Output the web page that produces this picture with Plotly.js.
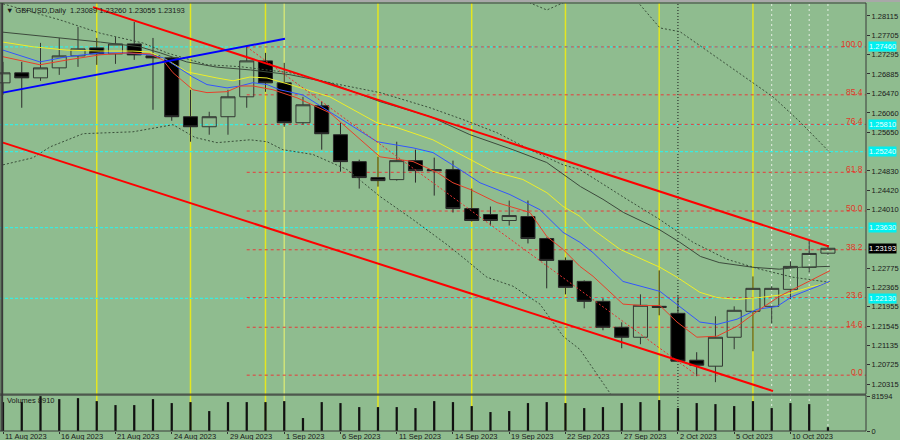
<!DOCTYPE html>
<html>
<head>
<meta charset="utf-8">
<script src="https://cdn.plot.ly/plotly-3.0.1.min.js"></script>
<style>
  html, body { margin: 0; padding: 0; background: #8fbc8f; }
  #chart { width: 900px; height: 440px; }
</style>
</head>
<body>
<div id="chart"></div>
<script>
// ---------- data ----------
const dateLabels = ["11 Aug 2023","16 Aug 2023","21 Aug 2023","24 Aug 2023","29 Aug 2023","1 Sep 2023","6 Sep 2023","11 Sep 2023","14 Sep 2023","19 Sep 2023","22 Sep 2023","27 Sep 2023","2 Oct 2023","5 Oct 2023","10 Oct 2023"];
const dateLabelIdx = [0,3,6,9,12,15,18,21,24,27,30,33,36,39,42];

const openP = [1.26697,1.26909,1.26803,1.27014,1.27268,1.27437,1.27310,1.27521,1.27268,1.27226,
  1.25979,1.25767,1.25979,1.26401,1.27162,1.26697,1.25852,1.26211,1.25598,1.25028,
  1.24690,1.24647,1.25049,1.24859,1.24859,1.24034,1.23908,1.23781,1.23865,1.23400,
  1.22936,1.22492,1.22069,1.21520,1.21308,1.21963,1.21815,1.20822,1.20695,1.21308,
  1.21858,1.21963,1.22323,1.22788,1.23089];
const highP = [1.27141,1.27141,1.27543,1.27648,1.27881,1.27648,1.27669,1.27986,1.27648,1.27247,
  1.26549,1.26084,1.26549,1.27458,1.27331,1.27120,1.26401,1.26296,1.25852,1.25070,
  1.25133,1.25450,1.25281,1.25112,1.25049,1.24457,1.24077,1.24203,1.24203,1.23422,
  1.22999,1.22513,1.22132,1.21625,1.22217,1.22724,1.22175,1.20991,1.21752,1.21963,
  1.22597,1.22386,1.22914,1.23358,1.23260];
const lowP = [1.26444,1.26169,1.26739,1.26866,1.27035,1.27078,1.27099,1.27183,1.26127,1.25894,
  1.25450,1.25598,1.25598,1.26169,1.26507,1.25767,1.25810,1.25281,1.24816,1.24457,
  1.24499,1.24626,1.24584,1.24309,1.23950,1.23760,1.23675,1.23675,1.23295,1.22344,
  1.22217,1.21921,1.21456,1.21076,1.21160,1.21773,1.20780,1.20484,1.20357,1.21055,
  1.21012,1.21604,1.22111,1.22682,1.23055];
const closeP = [1.26909,1.26803,1.27014,1.27268,1.27416,1.27310,1.27521,1.27289,1.27226,1.25979,
  1.25767,1.25979,1.26401,1.27162,1.26697,1.25852,1.26232,1.25619,1.25028,1.24690,
  1.24626,1.25049,1.24837,1.24837,1.24034,1.23781,1.23781,1.23886,1.23400,1.22936,
  1.22365,1.22069,1.21520,1.21308,1.21985,1.21942,1.20801,1.20717,1.21308,1.21879,
  1.22344,1.22344,1.22809,1.23083,1.23193];
const volumes = [67600,67600,81594,74600,76900,69900,60600,60600,74600,65300,
  67600,46600,67600,67600,67600,69900,30300,67600,65300,55900,
  55900,55900,53600,69900,67600,58300,44300,46600,65300,67600,
  65300,53600,55900,65300,67600,72300,53600,65300,62900,58300,
  69900,53600,65300,62900,8910];

// moving averages / bands (bar index, price)
const slowX = [0,2.5,5.2,7.3,8.4,9.8,11.4,13.2,15.3,17.4,20.1,22.8,24.9,27.2,29.0,30.8,32.0,33.1,35.0,36.1,37.2,38.2,40.0,41.4,42.5,44.1];
const slowY = [1.2777,1.2767,1.2756,1.2746,1.2733,1.2714,1.2703,1.2697,1.2687,1.2670,1.2630,1.2598,1.2560,1.2528,1.2501,1.2450,1.2423,1.2395,1.2359,1.2332,1.2302,1.2289,1.2279,1.2275,1.2279,1.2281];
const upBandX = [0,3.04,5.17,7.47,8.75,10.88,12.64,15.31,17.44,20.11,22.77,24.53,26.35,28.11,29.87,30.77,33.28,35.04,36.8,38.61,40.37,42.13,44.11];
const upBandY = [1.2837,1.2803,1.2775,1.2754,1.2733,1.2708,1.2704,1.2691,1.2670,1.2649,1.2617,1.2592,1.2564,1.2528,1.2496,1.2486,1.2423,1.2380,1.2332,1.2296,1.2275,1.2258,1.2247];
const topBandX = [27.57,28.11,29.01,29.97,30.51,33.44,33.81,35.04,36.11,40.0,41.07,42.51,44.11];
const topBandY = [1.2856,1.2839,1.2824,1.2841,1.2856,1.2856,1.2843,1.2786,1.2778,1.2670,1.2640,1.2587,1.2522];
const lowBandX = [0,1.6,2.51,4.27,6.93,9.07,10.24,11.41,13.17,14.08,14.93,16.53,18.35,20.11,21.87,23.68,24.53,25.81,27.2,28.64,29.87,30.77,32.59];
const lowBandY = [1.2496,1.2511,1.2534,1.2562,1.2566,1.2581,1.2554,1.2543,1.2549,1.2545,1.2528,1.2518,1.2486,1.2429,1.2380,1.2327,1.2300,1.2258,1.2239,1.2201,1.2133,1.2105,1.2000];
const yelX = [0,1.6,3.41,5.17,6.93,7.84,8.75,9.81,11.41,12.27,13.17,14.08,15.31,17.44,19.95,21.01,22.93,24.91,26.13,27.73,29.01,29.87,30.77,31.47,32.91,35.04,35.95,37.17,38.08,39.15,40.37,41.81,43.04,44.11];
const yelY = [1.2756,1.2746,1.2739,1.2737,1.2737,1.2735,1.2718,1.2693,1.2680,1.2674,1.2682,1.2680,1.2666,1.2640,1.2585,1.2575,1.2549,1.2507,1.2482,1.2465,1.2437,1.2408,1.2387,1.2359,1.2317,1.2279,1.2258,1.2226,1.2215,1.2211,1.2215,1.2222,1.2237,1.2247];
const bluX = [0,1.97,3.41,5.17,6.61,7.84,8.53,9.28,10.13,10.88,11.95,12.64,13.33,14.08,14.77,16.0,17.44,19.95,21.87,22.93,24.37,25.44,27.04,28.64,29.87,30.77,31.47,33.07,35.04,36.11,37.17,38.08,39.15,40.21,41.28,42.13,43.04,44.11];
const bluY = [1.2739,1.2714,1.2725,1.2733,1.2733,1.2729,1.2723,1.2704,1.2682,1.2666,1.2659,1.2663,1.2670,1.2666,1.2655,1.2644,1.2608,1.2545,1.2532,1.2522,1.2486,1.2458,1.2433,1.2401,1.2353,1.2332,1.2310,1.2249,1.2228,1.2196,1.2163,1.2158,1.2169,1.2190,1.2196,1.2218,1.2232,1.2249];
const redX = [0,1.97,3.41,5.17,6.61,7.84,8.53,9.07,10.13,10.88,11.95,12.64,13.33,14.4,15.68,17.44,20.11,21.87,23.15,24.0,24.91,26.35,28.11,29.01,29.87,30.77,31.47,33.07,34.13,35.04,35.95,37.01,38.08,39.15,40.37,41.44,42.13,43.2,44.11];
const redY = [1.2725,1.2708,1.2718,1.2729,1.2733,1.2731,1.2718,1.2691,1.2655,1.2649,1.2651,1.2663,1.2663,1.2655,1.2638,1.2606,1.2513,1.2503,1.2480,1.2458,1.2444,1.2416,1.2395,1.2344,1.2317,1.2281,1.2260,1.2201,1.2198,1.2198,1.2163,1.2131,1.2133,1.2154,1.2190,1.2218,1.2232,1.2253,1.2272];

// trend lines
const chanUpperX = [4.8, 44.05], chanUpperY = [1.2830, 1.2323];
const chanLowerX = [0, 41.07],  chanLowerY = [1.2543, 1.2017];
const blueTrendX = [0, 15.04],  blueTrendY = [1.2649, 1.2763];

// Fibonacci retracement
const fibStartIdx = 13, fibEndIdx = 37;
const fibHigh = 1.27458, fibLow = 1.20505;
const fibRatios = [100.0, 85.4, 76.4, 61.8, 50.0, 38.2, 23.6, 14.6, 0.0];

// price alert lines (cyan)
const cyanLevels = [1.2746, 1.2581, 1.2524, 1.2363, 1.2213];
const cyanLabels = ["1.27460","1.25810","1.25240","1.23630","1.22130"];

// vertical separators (bar indices)
const yellowIdx = [5,10,14,20,25,30,35,40];
const paleIdx = [15];
const blackDotIdx = [36];
const whiteDashIdx = [41,42,43,44];

const priceTicks = [1.28115,1.27705,1.27295,1.26885,1.26470,1.26060,1.25650,1.24830,1.24420,1.24010,1.22775,1.22365,1.21955,1.21545,1.21135,1.20725,1.20315];
const volTicks = [0, 81594];
const lastPrice = 1.23193;
const headerText = "\u25BC GBPUSD,Daily  1.23089 1.23260 1.23055 1.23193";
const volLabel = "Volumes 8910";

// ---------- chart ----------
const FONT = '"Liberation Sans", Arial, sans-serif';
const FS = 7.5;
const idx = openP.map((_, i) => i);
const xRange = [-0.16, 46.03];
const yRange = [1.20104, 1.28388];

function line(x, y, color, width, dash) {
  return {type: 'scatter', mode: 'lines', x, y, xaxis: 'x', yaxis: 'y',
    line: {color, width, dash: dash || 'solid'}, hoverinfo: 'skip'};
}

const traces = [
  {type: 'candlestick', x: idx, open: openP, high: highP, low: lowP, close: closeP,
   xaxis: 'x', yaxis: 'y', whiskerwidth: 0,
   increasing: {line: {color: '#333833', width: 1}, fillcolor: 'rgba(0,0,0,0)'},
   decreasing: {line: {color: '#2a2a2a', width: 1}, fillcolor: '#000000'},
   hoverinfo: 'skip'},
  {type: 'bar', x: idx, y: volumes, xaxis: 'x', yaxis: 'y2', width: 0.12,
   marker: {color: '#111111', line: {width: 0}}, hoverinfo: 'skip'},
  line(slowX, slowY, '#3c4a3c', 1),
  line(upBandX, upBandY, '#3a4f3a', 1, '2px,2px'),
  line(topBandX, topBandY, '#3a4f3a', 1, '2px,2px'),
  line(lowBandX, lowBandY, '#3a4f3a', 1, '2px,2px'),
  line(yelX, yelY, '#eeee28', 1),
  line(bluX, bluY, '#3355ff', 1),
  line(redX, redY, '#e8402a', 1),
  line([fibStartIdx, fibEndIdx], [fibHigh, fibLow], '#e83030', 1, '2px,2px'),
  line(chanUpperX, chanUpperY, '#ff0000', 2),
  line(chanLowerX, chanLowerY, '#ff0000', 2),
  line(blueTrendX, blueTrendY, '#0000ff', 2),
];

const shapes = [];
function vline(i, color, dash, width) {
  shapes.push({type: 'line', xref: 'x', yref: 'paper', x0: i, x1: i, y0: 0, y1: 1,
    line: {color, dash, width}, layer: 'below'});
}
yellowIdx.forEach(i => vline(i, '#e4e620', 'solid', 1.5));
paleIdx.forEach(i => vline(i, '#cfe27a', 'solid', 1.5));
blackDotIdx.forEach(i => vline(i, '#1a1a1a', '1px,2px', 1));
whiteDashIdx.forEach(i => vline(i, 'rgba(255,255,255,0.75)', '2px,3px', 1));

cyanLevels.forEach(v => shapes.push({type: 'line', xref: 'x', yref: 'y', x0: xRange[0], x1: xRange[1],
  y0: v, y1: v, line: {color: '#38ece0', dash: '3px,2px', width: 1.2}, layer: 'below'}));

const fibLevels = fibRatios.map(r => fibLow + (fibHigh - fibLow) * r / 100);
fibLevels.forEach(v => shapes.push({type: 'line', xref: 'x', yref: 'y', x0: fibStartIdx, x1: xRange[1],
  y0: v, y1: v, line: {color: '#e83a3a', dash: '3px,3px', width: 1}, layer: 'below'}));

// pane borders
shapes.push({type: 'rect', xref: 'paper', yref: 'y domain', x0: 0, x1: 1, y0: 0, y1: 1,
  line: {color: '#3a3a3a', width: 1}});
shapes.push({type: 'rect', xref: 'paper', yref: 'y2 domain', x0: 0, x1: 1, y0: 0, y1: 1,
  line: {color: '#3a3a3a', width: 1}});
shapes.push({type: 'line', xref: 'paper', yref: 'paper', x0: 0.0025, x1: 0.0025, y0: 0, y1: 1,
  line: {color: '#3a3a3a', width: 2}});
shapes.push({type: 'line', xref: 'paper', yref: 'paper', x0: -0.01, x1: 1.1, y0: 1.006, y1: 1.006,
  line: {color: '#a8a8a8', width: 3}});

const annotations = [];
fibRatios.forEach((r, k) => annotations.push({xref: 'paper', yref: 'y', x: 1, y: fibLevels[k],
  xanchor: 'right', yanchor: 'middle', yshift: 3, xshift: -1, showarrow: false,
  text: r.toFixed(1), font: {family: FONT, size: 8.5, color: '#e03a2a'}}));
cyanLevels.forEach((v, k) => annotations.push({xref: 'paper', yref: 'y', x: 1, y: v,
  xanchor: 'left', yanchor: 'middle', xshift: 2, showarrow: false, bgcolor: '#00f0f0', borderpad: 0,
  text: cyanLabels[k], font: {family: FONT, size: FS, color: '#e8ffff'}}));
annotations.push({xref: 'paper', yref: 'y', x: 1, y: lastPrice, xanchor: 'left', yanchor: 'middle',
  xshift: 2, showarrow: false, bgcolor: '#000000', borderpad: 0,
  text: lastPrice.toFixed(5), font: {family: FONT, size: FS, color: '#ffffff'}});
annotations.push({xref: 'paper', yref: 'paper', x: 0, y: 1, xanchor: 'left', yanchor: 'top',
  xshift: 4, yshift: -1, showarrow: false, text: headerText,
  font: {family: FONT, size: 7.5, color: '#1a1a1a'}});
annotations.push({xref: 'paper', yref: 'y2 domain', x: 0, y: 1, xanchor: 'left', yanchor: 'top',
  xshift: 5, yshift: 1, showarrow: false, text: volLabel,
  font: {family: FONT, size: FS, color: '#1a1a1a'}});
dateLabels.forEach((t, k) => annotations.push({xref: 'x', yref: 'paper', x: dateLabelIdx[k], y: 0,
  xanchor: 'left', yanchor: 'top', xshift: 0, yshift: 1, showarrow: false, text: t,
  font: {family: FONT, size: FS, color: '#1a1a1a'}}));

const layout = {
  width: 900, height: 440,
  margin: {l: 0, r: 34, t: 3, b: 9, pad: 0},
  paper_bgcolor: '#8fbc8f', plot_bgcolor: '#8fbc8f',
  showlegend: false,
  font: {family: FONT, size: FS, color: '#1a1a1a'},
  boxgap: 0, boxgroupgap: 0.25,
  xaxis: {range: xRange, anchor: 'y2', tickmode: 'array', tickvals: dateLabelIdx,
    showticklabels: false, ticks: 'outside', ticklen: 2, tickcolor: '#333',
    showgrid: false, zeroline: false, showline: false,
    rangeslider: {visible: false}, fixedrange: true},
  yaxis: {domain: [0.0862, 1], range: yRange, side: 'right', anchor: 'x', tickmode: 'array',
    tickvals: priceTicks, ticktext: priceTicks.map(v => v.toFixed(5)),
    ticks: 'outside', ticklen: 3, tickcolor: '#333', showgrid: false, zeroline: false, showline: false,
    fixedrange: true, tickfont: {family: FONT, size: FS, color: '#1a1a1a'}},
  yaxis2: {domain: [0, 0.0839], range: [0, 84000], side: 'right', anchor: 'x', tickmode: 'array',
    tickvals: volTicks, ticktext: volTicks.map(String),
    ticks: 'outside', ticklen: 3, tickcolor: '#333', showgrid: false, zeroline: false, showline: false,
    fixedrange: true, tickfont: {family: FONT, size: FS, color: '#1a1a1a'}},
  shapes, annotations
};

Plotly.newPlot('chart', traces, layout, {displayModeBar: false, staticPlot: true});
</script>
</body>
</html>
